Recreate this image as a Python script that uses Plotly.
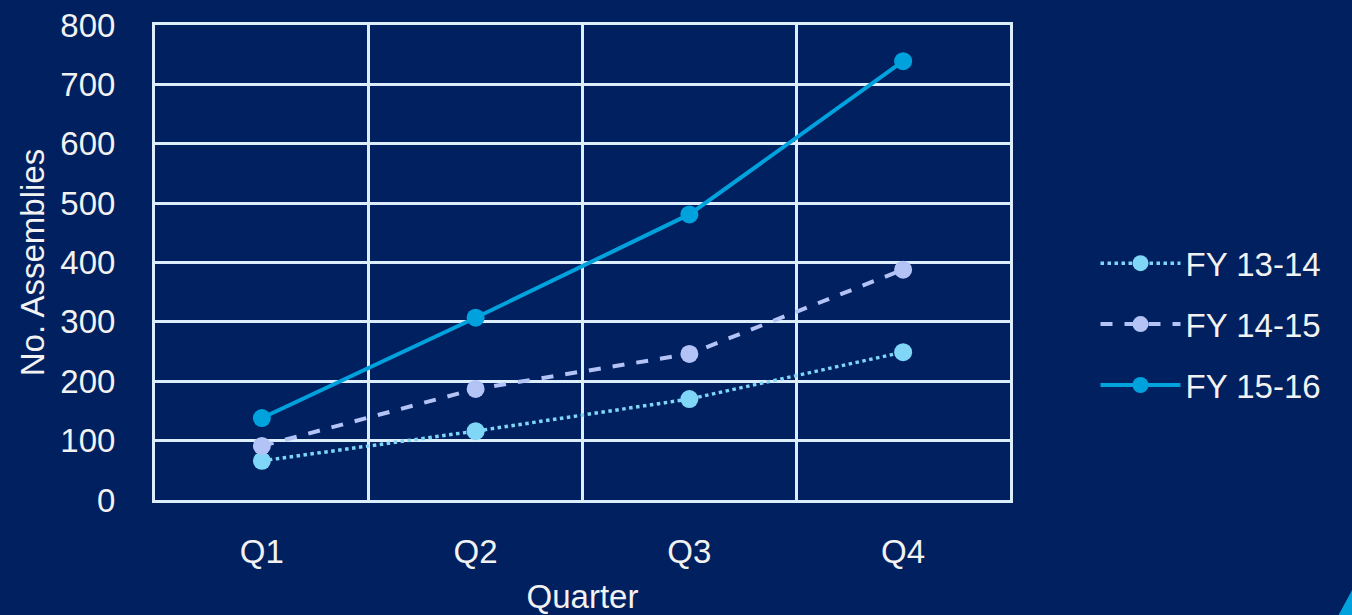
import plotly.graph_objects as go

quarters = ["Q1", "Q2", "Q3", "Q4"]
fy_13_14 = [66, 116, 170, 249]
fy_14_15 = [91, 187, 246, 388]
fy_15_16 = [138, 307, 481, 739]
series_names = ["FY 13-14", "FY 14-15", "FY 15-16"]

BG = "#002060"
GRID = "#DCEEFC"
TXT = "#F2F2F2"
FONT = "Liberation Sans, Arial, sans-serif"
FS = 33

fig = go.Figure()
styles = [
    ("#7FD6F7", "dot", 3.5),
    ("#B3C3F5", "dash", 4),
    ("#00A2DE", "solid", 4),
]
for name, vals, (col, dash, w) in zip(series_names, [fy_13_14, fy_14_15, fy_15_16], styles):
    fig.add_trace(go.Scatter(
        x=quarters, y=vals, name=name, mode="lines+markers", legendgroup=name,
        line=dict(color=col, dash=dash, width=w),
        marker=dict(color=col, size=18),
    ))

fig.update_layout(
    width=1352, height=615,
    paper_bgcolor=BG, plot_bgcolor=BG,
    margin=dict(l=155, r=342, t=25, b=115, autoexpand=False),
    font=dict(family=FONT, color=TXT, size=FS),
    showlegend=True,
    legend=dict(x=1.1, y=0.37, xanchor="left", yanchor="middle",
                font=dict(size=FS, color=TXT), tracegroupgap=15,
                itemwidth=80, bgcolor="rgba(0,0,0,0)"),
)
fig.update_xaxes(
    type="category", range=[-0.5, 3.5], tickson="boundaries", automargin=False,
    showgrid=True, gridcolor=GRID, gridwidth=3,
    showline=True, linecolor=GRID, linewidth=3, mirror=True,
    ticks="", ticklabelstandoff=20,
    tickfont=dict(size=FS, color=TXT),
    title=dict(text="Quarter", font=dict(size=FS, color=TXT), standoff=24),
)
fig.update_yaxes(
    range=[0, 800], dtick=100, tick0=0, automargin=False,
    showgrid=True, gridcolor=GRID, gridwidth=3,
    showline=True, linecolor=GRID, linewidth=3, mirror=True,
    ticks="", ticklabelstandoff=30, zeroline=False,
    tickfont=dict(size=FS, color=TXT),
    title=dict(text="No. Assemblies", font=dict(size=FS, color=TXT), standoff=6),
)
fig.add_shape(type="path", xref="paper", yref="paper",
              path="M 1.384 -0.243 L 1.4 -0.243 L 1.4 -0.19 Z",
              fillcolor="#00A2DE", line=dict(width=0), layer="above")

fig.write_html("out.html")
